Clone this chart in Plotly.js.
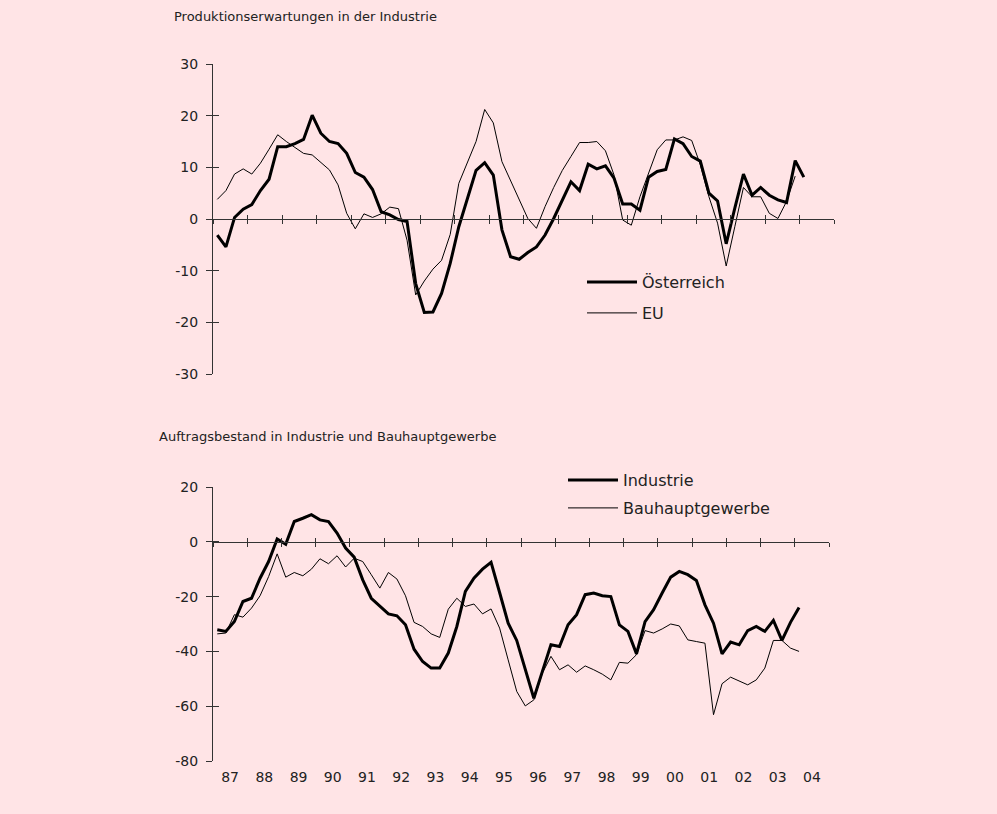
<!DOCTYPE html>
<html><head><meta charset="utf-8">
<script src="https://cdn.plot.ly/plotly-3.0.1.min.js"></script>
<style>html,body{margin:0;padding:0;background:#FFE4E6;}</style>
</head><body><div id="chart" style="width:997px;height:814px;"></div>
<script>
// ---- data (quarterly, starting 1987 Q1) ----
const startYear = 1987;
const yearLabels = ["87","88","89","90","91","92","93","94","95","96","97","98","99","00","01","02","03","04"];
const topTickVals = [-30,-20,-10,0,10,20,30];
const topTickText = ["-30","-20","-10","0","10","20","30"];
const botTickVals = [-80,-60,-40,-20,0,20];
const botTickText = ["-80","-60","-40","-20","0","20"];
const oesterreich = [-3.1,-5.4,0.3,1.9,2.8,5.5,7.7,14.0,14.0,14.6,
  15.4,20.1,16.6,15.0,14.6,12.7,9.0,8.1,5.7,1.4,
  0.8,-0.1,-0.5,-12.5,-18.1,-18.0,-14.4,-8.6,-1.5,4.2,
  9.4,10.9,8.5,-2.1,-7.3,-7.8,-6.5,-5.4,-3.1,0.1,
  3.7,7.2,5.5,10.6,9.7,10.3,7.9,2.9,2.9,1.7,
  8.1,9.2,9.6,15.5,14.6,12.1,11.2,5.0,3.5,-4.8,
  2.1,8.7,4.6,6.1,4.6,3.7,3.2,11.3,8.1];
const eu = [3.8,5.5,8.7,9.7,8.7,10.8,13.5,16.3,15.0,13.9,
  12.7,12.4,10.9,9.5,6.6,1.1,-1.9,1.0,0.3,1.0,
  2.3,2.0,-4.1,-14.7,-12.0,-9.7,-8.0,-3.0,6.9,10.9,
  15.0,21.2,18.6,11.1,7.5,4.0,0.1,-1.8,2.4,6.1,
  9.4,12.1,14.8,14.8,15.0,13.2,8.5,-0.2,-1.2,4.3,
  8.8,13.4,15.3,15.3,15.9,15.2,10.5,4.3,-0.8,-9.1,
  -1.5,6.1,4.3,4.3,1.1,0.1,3.4,8.3];
const industrie = [-32.1,-32.7,-29.1,-21.8,-20.6,-13.3,-7.2,1.0,-0.9,7.4,
  8.6,9.9,8.0,7.4,3.2,-2.3,-5.6,-13.9,-20.6,-23.6,
  -26.3,-27.0,-30.3,-39.2,-43.7,-46.1,-46.1,-40.6,-30.9,-18.1,
  -13.3,-10.0,-7.5,-18.5,-29.7,-36.0,-46.5,-57.1,-47.3,-37.6,
  -38.2,-30.3,-26.6,-19.3,-18.7,-19.7,-20.0,-30.3,-32.7,-40.9,
  -29.1,-24.8,-18.7,-12.9,-10.8,-12.0,-14.1,-23.0,-29.7,-40.9,
  -36.6,-37.6,-32.4,-30.9,-32.7,-28.7,-36.0,-29.4,-24.0];
const bau = [-33.6,-33.3,-26.6,-27.5,-24.2,-19.7,-12.7,-4.4,-12.9,-11.2,
  -12.4,-10.0,-6.2,-8.0,-5.1,-9.2,-6.0,-7.2,-12.0,-16.9,
  -11.2,-13.6,-19.7,-29.4,-30.9,-33.6,-34.9,-24.6,-20.6,-23.6,
  -22.7,-26.3,-24.5,-31.5,-43.1,-54.6,-59.9,-57.7,-47.9,-41.8,
  -46.7,-44.9,-47.6,-45.3,-46.7,-48.3,-50.4,-44.0,-44.3,-41.2,
  -32.4,-33.3,-31.8,-30.0,-30.7,-35.8,-36.4,-37.0,-63.1,-51.8,
  -49.4,-50.7,-52.2,-50.4,-46.1,-36.0,-36.0,-38.8,-40.0];
const topTitle = "Produktionserwartungen in der Industrie";
const botTitle = "Auftragsbestand in Industrie und Bauhauptgewerbe";

// quarter midpoints as time coordinate
const quarterX = n => Array.from({length:n}, (_, i) => startYear + 0.125 + 0.25*i);
const yearTicks = Array.from({length:yearLabels.length+1}, (_, i) => startYear + i);
const yearMid = yearLabels.map((_, i) => startYear + i + 0.5);

const W = 997, H = 814;
const fx = px => px / W;
const fy = py => 1 - py / H;
const BG = '#FFE4E6';
const TXT = '#222222';
const AX = '#333333';
const FONT = 'DejaVu Sans';

const xTopDom = [fx(213), fx(834)];
const yTopDom = [fy(374), fy(64)];
const xBotDom = [fx(213), fx(829)];
const yBotDom = [fy(761), fy(487)];
const topZero = yTopDom[0] + (yTopDom[1]-yTopDom[0]) * 0.5;
const botZero = yBotDom[0] + (yBotDom[1]-yBotDom[0]) * 0.8;

const traces = [
  {x: quarterX(oesterreich.length), y: oesterreich, xaxis:'x', yaxis:'y', mode:'lines', name:'Österreich',
   line:{color:'#000', width:3}, legend:'legend'},
  {x: quarterX(eu.length), y: eu, xaxis:'x', yaxis:'y', mode:'lines', name:'EU',
   line:{color:'#000', width:1}, legend:'legend2'},
  {x: quarterX(industrie.length), y: industrie, xaxis:'x2', yaxis:'y2', mode:'lines', name:'Industrie',
   line:{color:'#000', width:3}, legend:'legend3'},
  {x: quarterX(bau.length), y: bau, xaxis:'x2', yaxis:'y2', mode:'lines', name:'Bauhauptgewerbe',
   line:{color:'#000', width:1}, legend:'legend4'},
  // empty helper traces so the twin axes (crossing tick marks, year labels) get drawn
  {x: [], y: [], xaxis:'x3', yaxis:'y3', showlegend:false, hoverinfo:'skip'},
  {x: [], y: [], xaxis:'x4', yaxis:'y4', showlegend:false, hoverinfo:'skip'},
  {x: [], y: [], xaxis:'x5', yaxis:'y2', showlegend:false, hoverinfo:'skip'}
];

const zeroAx = (dom, pos, ticks, extra) => Object.assign({
  domain: dom, anchor:'free', position: pos, range:[startYear, startYear+yearLabels.length],
  tickmode:'array', tickvals: yearTicks, showticklabels:false,
  ticks: ticks, ticklen:4, tickwidth:1, tickcolor:AX,
  showline:true, linecolor:AX, linewidth:1, showgrid:false, zeroline:false, fixedrange:true
}, extra||{});
const yAx = (dom, range, vals, text, anchor, ticks, extra) => Object.assign({
  domain: dom, range: range, tickmode:'array', tickvals: vals, ticktext: text, anchor: anchor,
  ticks: ticks, ticklen:6, tickwidth:1, tickcolor:AX, ticklabelstandoff:5,
  showline:true, linecolor:AX, linewidth:1, showgrid:false, zeroline:false,
  tickfont:{family:FONT, size:14, color:TXT}, fixedrange:true
}, extra||{});

const legendBase = (px, py) => ({
  x: fx(px), y: fy(py), xanchor:'left', yanchor:'middle',
  bgcolor:'rgba(0,0,0,0)', borderwidth:0, itemwidth:50,
  font:{family:FONT, size:16, color:TXT}
});

const layout = {
  width: W, height: H,
  margin:{l:0, r:0, t:0, b:0},
  paper_bgcolor: BG, plot_bgcolor: BG,
  font:{family:FONT, size:14, color:TXT},
  showlegend:true,
  xaxis: zeroAx(xTopDom, topZero, 'outside'),
  xaxis3: zeroAx(xTopDom, topZero, 'inside', {overlaying:'x'}),
  yaxis: yAx(yTopDom, [-30,30], topTickVals, topTickText, 'x', 'outside'),
  yaxis3: yAx(yTopDom, [-30,30], topTickVals, topTickText, 'x', 'inside', {overlaying:'y', showticklabels:false}),
  xaxis2: zeroAx(xBotDom, botZero, 'outside'),
  xaxis4: zeroAx(xBotDom, botZero, 'inside', {overlaying:'x2'}),
  xaxis5: {domain:xBotDom, anchor:'y2', overlaying:'x2', range:[startYear, startYear+yearLabels.length],
    tickmode:'array', tickvals: yearMid, ticktext: yearLabels, ticks:'', showline:false, ticklabelstandoff:6,
    showgrid:false, zeroline:false, tickfont:{family:FONT, size:14, color:TXT}, fixedrange:true},
  yaxis2: yAx(yBotDom, [-80,20], botTickVals, botTickText, 'x2', 'outside'),
  yaxis4: yAx(yBotDom, [-80,20], botTickVals, botTickText, 'x2', 'inside', {overlaying:'y2', showticklabels:false}),
  legend: legendBase(582, 282),
  legend2: legendBase(582, 313),
  legend3: legendBase(563, 480),
  legend4: legendBase(563, 508),
  annotations: [
    {text: topTitle, xref:'paper', yref:'paper', x: fx(172), y: fy(17), xanchor:'left', yanchor:'middle',
     showarrow:false, font:{family:FONT, size:13, color:TXT}},
    {text: botTitle, xref:'paper', yref:'paper', x: fx(157), y: fy(436), xanchor:'left', yanchor:'middle',
     showarrow:false, font:{family:FONT, size:13, color:TXT}}
  ]
};

Plotly.newPlot('chart', traces, layout, {displayModeBar:false, staticPlot:true});
</script></body></html>
